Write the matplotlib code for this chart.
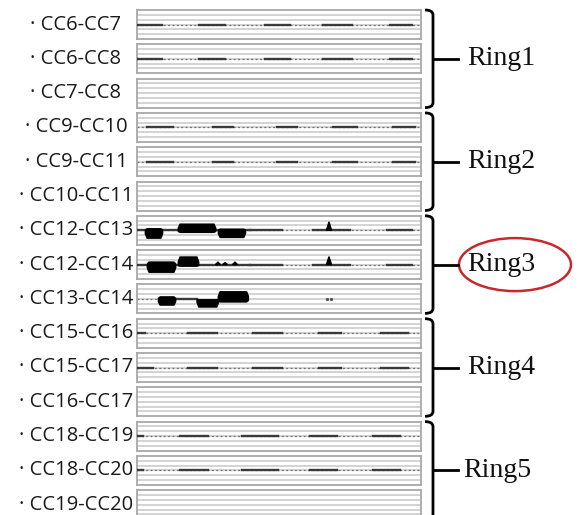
import matplotlib
matplotlib.use("Agg")
import matplotlib.pyplot as plt
from matplotlib.patches import Ellipse
from matplotlib.path import Path
from matplotlib.patches import PathPatch

# pair labels, top to bottom
pairs = ["CC6-CC7", "CC6-CC8", "CC7-CC8",
         "CC9-CC10", "CC9-CC11", "CC10-CC11",
         "CC12-CC13", "CC12-CC14", "CC13-CC14",
         "CC15-CC16", "CC15-CC17", "CC16-CC17",
         "CC18-CC19", "CC18-CC20", "CC19-CC20"]
rings = ["Ring1", "Ring2", "Ring3", "Ring4", "Ring5"]
highlight_ring = "Ring3"

# darker stretches of the trace (time axis 0-100)
ring1_dark = [(0, 8.8), (22, 31), (45, 54), (65.5, 75.7), (89, 97)]
ring2_dark = [(3.5, 12.7), (26.8, 33.8), (49.3, 56.3), (69, 77.5), (90, 97.9)]
ring3_dark = [(0, 39.8), (39.8, 51), (62, 75), (88, 97)]
ring4_dark_a = [(0, 2.8), (18, 28), (41, 51), (64, 72), (86, 95.4)]
ring4_dark_b = [(0, 5.6), (18, 28), (41, 51), (64, 72), (86, 95.4)]
ring5_dark = [(0, 2), (15, 25), (37, 49.6), (61, 70.4), (83, 92.6)]
cc13_14_dark = [(13.4, 21)]

# faint dotted stretches
full_light = [(0, 99.5)]
cc13_14_light = [(0, 7.4)]

# thick bursts: (start, end, low, high)
cc12_13_blobs = [(2.8, 8.8, -1.5, 0.4), (14.4, 27.5, -0.3, 1.35), (28.5, 38, -1.35, 0.3)]
cc12_14_blobs = [(3.5, 13.4, -1.45, 0.6), (14.4, 21.5, -0.2, 1.65)]
cc13_14_blobs = [(7.4, 13.4, -1.15, 0.5), (21, 28.5, -1.55, -0.1), (28.5, 39, -0.5, 1.55)]

# spikes: (time, height)
cc12_13_spikes = [(67.6, 1.75)]
cc12_14_spikes = [(28.5, 0.5), (31, 0.4), (34.5, 0.5), (67.6, 1.65)]
cc13_14_dots = [66.8, 68.4]

panel_dark = [ring1_dark, ring1_dark, [],
              ring2_dark, ring2_dark, [],
              ring3_dark, ring3_dark, cc13_14_dark,
              ring4_dark_a, ring4_dark_b, [],
              ring5_dark, ring5_dark, []]
panel_light = [full_light, full_light, [],
               full_light, full_light, [],
               full_light, full_light, cc13_14_light,
               full_light, full_light, [],
               full_light, full_light, []]
panel_blobs = {6: cc12_13_blobs, 7: cc12_14_blobs, 8: cc13_14_blobs}
panel_spikes = {6: cc12_13_spikes, 7: cc12_14_spikes}

W, H = 581, 515
fig = plt.figure(figsize=(W / 100, H / 100), dpi=100)

left, right = 137, 421
top0, step, ph = 10, 34.3, 29

for i, name in enumerate(pairs):
    top = top0 + i * step
    ax = fig.add_axes([left / W, 1 - (top + ph) / H, (right - left) / W, ph / H])
    ax.set_xlim(0, 100)
    ax.set_ylim(-3, 3)
    for g in [-2, -1, 0, 1, 2]:
        ax.axhline(g, color="#cccccc", lw=1.2, zorder=1)
    for s in ax.spines.values():
        s.set_color("#a8a8a8")
        s.set_linewidth(1.3)
    ax.set_xticks([])
    ax.set_yticks([])
    for x0, x1 in panel_light[i]:
        ax.plot([x0, x1], [0, 0], color="#707070", lw=0.9, ls=(0, (1.5, 2)), zorder=2)
    for x0, x1 in panel_dark[i]:
        ax.plot([x0, x1], [0, 0], color="#3a3a3a", lw=1.7, zorder=3)
    for x0, x1, lo, hi in panel_blobs.get(i, []):
        xs = [x0, x0 + 0.6, x1 - 0.6, x1]
        ax.fill_between(xs, [lo * 0.4, lo, lo, lo * 0.4], [hi * 0.4, hi, hi, hi * 0.4],
                        color="black", lw=1.2, zorder=4)
    for x, h in panel_spikes.get(i, []):
        ax.fill([x - 0.9, x, x + 0.9], [0, h, 0], color="black", lw=1, zorder=4)
    if i == 8:
        ax.plot(cc13_14_dots, [0, 0], ls="none", marker="s", ms=1.2, color="#555555")

# overlay in pixel coordinates for labels and brackets
ov = fig.add_axes([0, 0, 1, 1], zorder=10)
ov.set_xlim(0, W)
ov.set_ylim(H, 0)
ov.axis("off")
ov.patch.set_alpha(0)

for i, name in enumerate(pairs):
    yc = top0 + i * step + ph / 2
    ov.text(76, yc, "\u00b7 " + name, ha="center", va="center",
            fontsize=14.5, family="Open Sans", color="#1a1a1a")

bx = 433
for k, ring in enumerate(rings):
    yt = top0 + 3 * k * step
    yb = yt + 2 * step + ph
    ym = (yt + yb) / 2
    verts = [(425, yt), (433, yt), (bx, yt + 5), (bx, yb - 5), (bx, yb), (425, yb)]
    codes = [Path.MOVETO, Path.CURVE3, Path.CURVE3, Path.LINETO, Path.CURVE3, Path.CURVE3]
    ov.add_patch(PathPatch(Path(verts, codes), fill=False, lw=2, color="black"))
    ov.plot([bx, 458], [ym, ym], color="black", lw=2)
    tx = 463 if ring == "Ring5" else 467
    ov.text(tx, ym, ring, ha="left", va="center", fontsize=20,
            family="Liberation Serif", color="#111111")
    if ring == highlight_ring:
        ov.add_patch(Ellipse((515, ym), 112, 53, fill=False, ec="#c8282d", lw=1.8))

fig.savefig("out.png", dpi=100)
